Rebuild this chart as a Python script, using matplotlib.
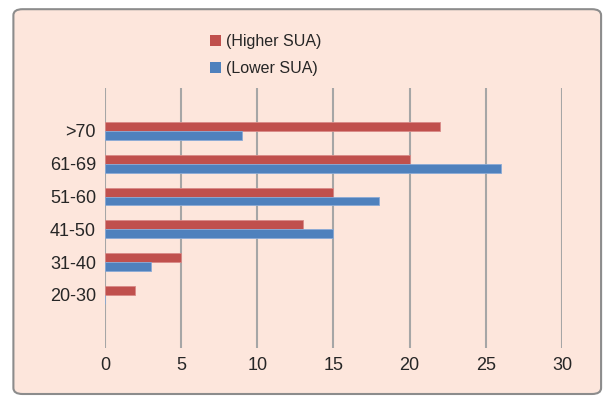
import matplotlib.pyplot as plt
import numpy as np
from matplotlib.patches import FancyBboxPatch, Patch

plt.rcParams["font.family"] = ["Liberation Sans", "DejaVu Sans"]

# Data
categories = ["20-30", "31-40", "41-50", "51-60", "61-69", ">70"]
higher_sua = [2, 5, 13, 15, 20, 22]
lower_sua = [0, 3, 15, 18, 26, 9]

red = "#c0504d"
blue = "#4f81bd"
bg = "#fde6dc"

fig = plt.figure(figsize=(6.09, 4.0), dpi=100)
fig.patch.set_facecolor("white")

# rounded chart frame
frame = FancyBboxPatch((0.022, 0.015), 0.965, 0.962,
                       boxstyle="round,pad=0,rounding_size=0.015",
                       transform=fig.transFigure, facecolor=bg,
                       edgecolor="#8c8c8c", linewidth=1.5, zorder=-10)
fig.patches.append(frame)

ax = fig.add_axes([0.1724, 0.13, 0.7504, 0.65])
ax.set_facecolor("none")

y = np.arange(len(categories))
h = 0.27
ax.barh(y + h / 2, higher_sua, h, color=red, edgecolor="#d98a88",
        linewidth=0.6, label="(Higher SUA)", zorder=3)
ax.barh(y - h / 2, lower_sua, h, color=blue, edgecolor="#8aaad6",
        linewidth=0.6, label="(Lower SUA)", zorder=3)

ax.set_xlim(0, 30)
ax.set_ylim(-1.62, 6.31)
ax.set_xticks(np.arange(0, 31, 5))
ax.set_yticks(y)
ax.set_yticklabels(categories)
ax.grid(axis="x", color="#a6a6a6", linewidth=1.5, zorder=1)
ax.set_axisbelow(True)
for s in ax.spines.values():
    s.set_visible(False)
ax.tick_params(axis="both", length=0, labelsize=13, colors="#262626")
ax.tick_params(axis="x", pad=6.5)
ax.tick_params(axis="y", pad=6.5)

handles = [Patch(facecolor=red, label="(Higher SUA)"),
           Patch(facecolor=blue, label="(Lower SUA)")]
fig.legend(handles=handles, loc="upper center", bbox_to_anchor=(0.436, 0.95),
           frameon=False, fontsize=11.5, handlelength=0.7, handleheight=0.7,
           handletextpad=0.3, labelspacing=0.75, labelcolor="#262626")

fig.savefig("out.png", dpi=100, facecolor=fig.get_facecolor())
